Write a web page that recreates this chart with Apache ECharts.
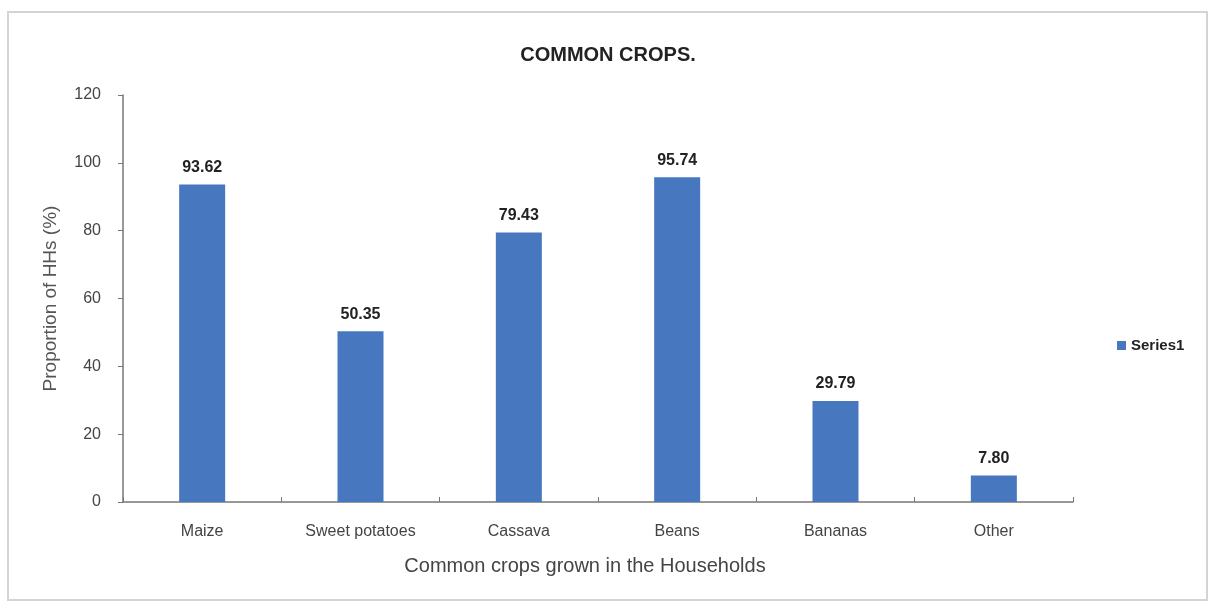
<!DOCTYPE html>
<html>
<head>
<meta charset="utf-8">
<script src="https://cdn.jsdelivr.net/npm/echarts@6/dist/echarts.min.js"></script>
<style>
html,body{margin:0;padding:0;background:#fff;}
#crops{width:1216px;height:608px;}
</style>
</head>
<body>
<div id="crops"></div>
<script>
var crop_names = ['Maize', 'Sweet potatoes', 'Cassava', 'Beans', 'Bananas', 'Other'];
var crop_share = [93.62, 50.35, 79.43, 95.74, 29.79, 7.80];
var share_ticks = [0, 20, 40, 60, 80, 100, 120];

var cropsChart = echarts.init(document.getElementById('crops'));
var cropsChart_option = {
    backgroundColor: '#fff',
    animation: false,
    graphic: [
        {
            type: 'rect',
            shape: { x: 8, y: 12, width: 1199, height: 588 },
            style: { fill: 'none', stroke: '#d4d4d4', lineWidth: 2 }
        },
        {
            // x axis title sits a bit left of the plot centre in the original
            type: 'text',
            x: 585,
            y: 556,
            style: {
                text: 'Common crops grown in the Households',
                fontSize: 20,
                fill: '#444',
                align: 'center',
                verticalAlign: 'top'
            }
        }
    ],
    title: {
        text: 'COMMON CROPS.',
        left: 603,
        textAlign: 'center',
        top: 40,
        textStyle: {
            fontSize: 20,
            fontWeight: 'bold',
            color: '#222'
        }
    },
    legend: {
        data: ['Series1'],
        orient: 'vertical',
        left: 1112,
        top: 333,
        icon: 'rect',
        itemWidth: 9,
        itemHeight: 9,
        itemGap: 4,
        textStyle: { fontSize: 15, fontWeight: 'bold', color: '#222' }
    },
    grid: { left: 123, right: 143, top: 95, bottom: 106 },
    xAxis: [
        {
            type: 'category',
            data: crop_names,
            axisLine: { lineStyle: { color: '#777', width: 1.5 } },
            axisTick: { show: true, length: 5, inside: true, lineStyle: { color: '#777' } },
            axisLabel: { fontSize: 16, color: '#444', margin: 22 }
        }
    ],
    yAxis: [
        {
            type: 'value',
            min: share_ticks[0],
            max: share_ticks[share_ticks.length - 1],
            interval: 20,
            name: 'Proportion of HHs (%)',
            nameLocation: 'middle',
            nameGap: 63,
            nameTextStyle: { fontSize: 19, color: '#555' },
            axisLine: { show: true, lineStyle: { color: '#777', width: 1.5 } },
            axisTick: { show: true, length: 5, lineStyle: { color: '#777' } },
            splitLine: { show: false },
            axisLabel: { fontSize: 16, color: '#444', margin: 22 }
        }
    ],
    series: [
        {
            name: 'Series1',
            type: 'bar',
            data: crop_share,
            barWidth: 46,
            itemStyle: { color: '#4677bf' },
            label: {
                show: true,
                position: 'top',
                distance: 9,
                formatter: function (p) { return p.value.toFixed(2); },
                fontSize: 16,
                fontWeight: 'bold',
                color: '#222'
            }
        }
    ]
};
cropsChart.setOption(cropsChart_option);
</script>
</body>
</html>
